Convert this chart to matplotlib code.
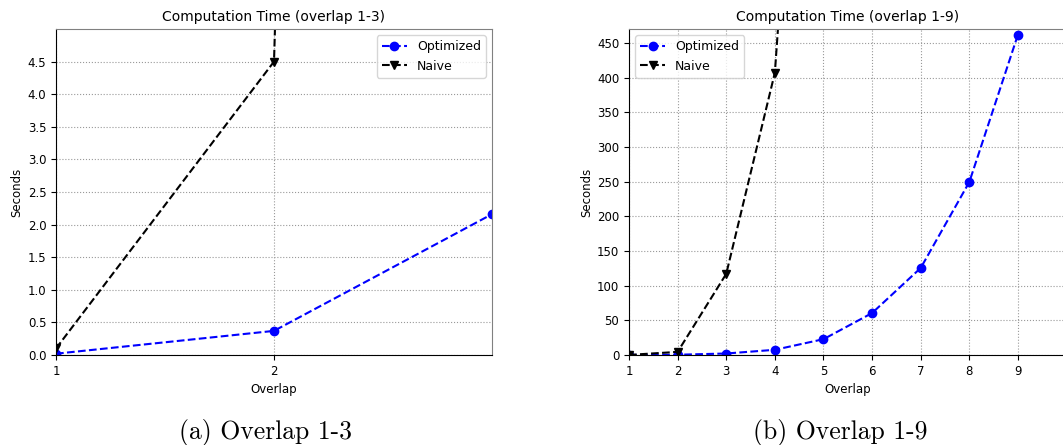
import numpy as np
import matplotlib
matplotlib.use('Agg')
import matplotlib.pyplot as plt

# overlap values and run times (seconds)
overlap = [1, 2, 3, 4, 5, 6, 7, 8, 9]
optimized = [0.02, 0.37, 2.16, 7.5, 22.8, 60.5, 125.5, 249.5, 462]
naive = [0.1, 4.5, 117, 407, 1400]
naive_x = [1, 2, 3, 4, 5]

fig = plt.figure(figsize=(10.63, 4.45), dpi=100)
W, H = 1063., 445.

def box(x0, y0, x1, y1):
    return [x0 / W, 1 - y1 / H, (x1 - x0) / W, (y1 - y0) / H]

ax1 = fig.add_axes(box(56, 29, 492, 355))
ax2 = fig.add_axes(box(629, 29, 1066.6, 355))


def style(ax):
    ax.grid(True, linestyle=':', color='#999999', linewidth=0.8)
    ax.spines['top'].set_color('#808080')
    ax.spines['right'].set_color('#808080')
    ax.tick_params(labelsize=8.5, length=3.5)
    ax.set_xlabel('Overlap', fontsize=8.5)
    ax.set_ylabel('Seconds', fontsize=8.5, labelpad=3)


# overlap 1-3
ax1.plot(overlap[:3], optimized[:3], 'b--o', markersize=6, label='Optimized')
ax1.plot(naive_x[:3], naive[:3], 'k--v', markersize=6, label='Naive')
ax1.set_xlim(1, 3)
ax1.set_ylim(0, 5)
ax1.set_xticks([1, 2])
ax1.set_yticks(np.arange(0, 4.51, 0.5))
ax1.set_title('Computation Time (overlap 1-3)', fontsize=10)
style(ax1)
ax1.legend(loc='upper right', fontsize=9)

# overlap 1-9
ax2.plot(overlap, optimized, 'b--o', markersize=6, label='Optimized')
ax2.plot(naive_x, naive, 'k--v', markersize=6, label='Naive')
ax2.set_xlim(1, 10)
ax2.set_ylim(0, 470)
ax2.set_xticks(overlap)
ax2.set_yticks(np.arange(0, 451, 50))
ax2.set_title('Computation Time (overlap 1-9)', fontsize=10)
style(ax2)
ax2.legend(loc='upper left', fontsize=9)

fig.text(265.5 / W, 1 - 433 / H, '(a) Overlap 1-3', family='cmr10',
         fontsize=18.5, ha='center', va='center')
fig.text(840 / W, 1 - 433 / H, '(b) Overlap 1-9', family='cmr10',
         fontsize=18.5, ha='center', va='center')

fig.savefig('out.png', dpi=100)
